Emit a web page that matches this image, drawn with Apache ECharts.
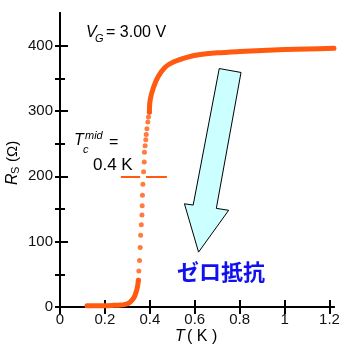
<!DOCTYPE html>
<html><head><meta charset="utf-8">
<script src="https://cdn.jsdelivr.net/npm/echarts@6/dist/echarts.min.js"></script>
<style>html,body{margin:0;padding:0;background:#fff}#c{width:350px;height:350px}</style>
</head><body><div id="c"></div>
<script>
// ---- data ----
const xTicks = [0, 0.2, 0.4, 0.6, 0.8, 1, 1.2];
const yTicks = [0, 100, 200, 300, 400];
const yMinorTicks = [50, 150, 250, 350];
const yRightTicks = [0, 50, 100, 150, 200, 250, 300, 350, 400];
// dense low-temperature part (T in K, Rs in ohm)
const lowT = [0.12, 0.16, 0.20, 0.24, 0.27, 0.29, 0.30, 0.31, 0.32, 0.33, 0.335, 0.34, 0.345, 0.349];
const lowR = [2, 2, 2, 2.5, 3, 4, 5, 7, 10, 15, 19, 24, 31, 41];
// sparse points in the transition
const midT = [0.349, 0.351, 0.354, 0.357, 0.359, 0.362, 0.365, 0.366, 0.367, 0.369, 0.372, 0.375, 0.376, 0.379, 0.382, 0.384, 0.387, 0.391, 0.394, 0.398];
const midR = [41, 55, 71, 91, 110, 126, 141, 155, 171, 188, 207, 222, 237, 247, 256, 264, 273, 283, 291, 298];
// dense high-temperature part
const highT = [0.398, 0.401, 0.416, 0.438, 0.468, 0.505, 0.565, 0.617, 0.70, 0.80, 0.90, 1.0, 1.1, 1.22];
const highR = [298, 316, 336, 353, 367, 375, 382, 386, 389, 391, 392.5, 394, 395, 396];
// Tc mid marker (horizontal segments at R = 200)
const tcSegT = [[0.271, 0.357], [0.383, 0.476]];
const tcR = 200;
// arrow outline in data coordinates
const arrowT = [0.709, 0.806, 0.696, 0.751, 0.617, 0.554, 0.593];
const arrowR = [365, 359, 151, 148, 84, 158, 156];

const FONT = 'Liberation Sans';
const ORANGE = '#ff5a0f';
const zip = (a, b) => a.map((v, i) => [v, b[i]]);
const chart = echarts.init(document.getElementById('c'));

const axisLine = {show: true, lineStyle: {color: '#000', width: 2}};
const tick = (len, vals) => ({show: true, inside: true, length: len, customValues: vals, lineStyle: {color: '#000', width: 2}});

chart.setOption({
  animation: false,
  grid: {left: 60, right: 16, top: 13, bottom: 43},
  xAxis: [
    {type: 'value', min: 0, max: 1.22, position: 'bottom',
     axisLine, axisTick: tick(7, xTicks), splitLine: {show: false},
     axisLabel: {fontFamily: FONT, fontSize: 15, color: '#111', margin: 5, customValues: xTicks,
       formatter: v => String(+v.toFixed(1))}},
    {type: 'value', min: 0, max: 1.22, position: 'top',
     axisLine, axisTick: tick(7, xTicks), splitLine: {show: false}, axisLabel: {show: false}}
  ],
  yAxis: [
    {type: 'value', min: 0, max: 450, position: 'left',
     axisLine, axisTick: tick(8, yTicks), splitLine: {show: false},
     axisLabel: {fontFamily: FONT, fontSize: 15, color: '#111', margin: 7, customValues: yTicks}},
    {type: 'value', min: 0, max: 450, position: 'right',
     axisLine, axisTick: tick(5, yRightTicks), splitLine: {show: false}, axisLabel: {show: false}},
    {type: 'value', min: 0, max: 450, position: 'left',
     axisLine: {show: false}, axisTick: tick(5, yMinorTicks), splitLine: {show: false}, axisLabel: {show: false}}
  ],
  series: [
    {type: 'custom', silent: true, z: 1, data: [[0, 0]],
     renderItem: (params, api) => ({
       type: 'polygon',
       shape: {points: arrowT.map((t, i) => api.coord([t, arrowR[i]]))},
       style: {fill: '#ccffff', stroke: '#000', lineWidth: 1}
     })},
    {type: 'lines', coordinateSystem: 'cartesian2d', silent: true, z: 2,
     lineStyle: {color: ORANGE, width: 2, opacity: 1},
     data: tcSegT.map(s => ({coords: [[s[0], tcR], [s[1], tcR]]}))},
    {type: 'line', data: zip(lowT, lowR), showSymbol: false, smooth: 0.3, z: 3,
     lineStyle: {color: ORANGE, width: 5, cap: 'round', join: 'round'}},
    {type: 'scatter', data: zip(midT, midR), symbolSize: 5, z: 3,
     itemStyle: {color: ORANGE}},
    {type: 'line', data: zip(highT, highR), showSymbol: false, smooth: 0.3, z: 3,
     lineStyle: {color: ORANGE, width: 5, cap: 'round', join: 'round'}}
  ],
  graphic: [
    // V_G = 3.00 V
    {type: 'text', x: 86, y: 33, style: {text: 'V', font: 'italic 16px "Liberation Sans"', fill: '#000', verticalAlign: 'middle'}},
    {type: 'text', x: 95, y: 39, style: {text: 'G', font: 'italic 11px "Liberation Sans"', fill: '#000', verticalAlign: 'middle'}},
    {type: 'text', x: 106, y: 33, style: {text: '= 3.00 V', font: '16px "Liberation Sans"', fill: '#000', verticalAlign: 'middle'}},
    // Tc^mid =
    {type: 'text', x: 74, y: 141, style: {text: 'T', font: 'italic 16px "Liberation Sans"', fill: '#000', verticalAlign: 'middle'}},
    {type: 'text', x: 83, y: 150, style: {text: 'c', font: 'italic 11px "Liberation Sans"', fill: '#000', verticalAlign: 'middle'}},
    {type: 'text', x: 85, y: 136, style: {text: 'mid', font: 'italic 11px "Liberation Sans"', fill: '#000', verticalAlign: 'middle'}},
    {type: 'text', x: 109, y: 143, style: {text: '=', font: '16px "Liberation Sans"', fill: '#000', verticalAlign: 'middle'}},
    {type: 'text', x: 93, y: 165, style: {text: '0.4 K', font: '17px "Liberation Sans"', fill: '#000', verticalAlign: 'middle'}},
    // y title R_S (Ω)
    {type: 'group', x: 12.5, y: 160, rotation: Math.PI / 2, children: [
      {type: 'text', x: -25, y: 0, style: {text: 'R', font: 'italic 16px "Liberation Sans"', fill: '#000', verticalAlign: 'middle'}},
      {type: 'text', x: -14, y: 3, style: {text: 'S', font: '11px "Liberation Sans"', fill: '#000', verticalAlign: 'middle'}},
      {type: 'text', x: -2, y: 0, style: {text: '(Ω)', font: '15px "Liberation Sans"', fill: '#000', verticalAlign: 'middle'}}
    ]},
    // x title T ( K )
    {type: 'text', x: 175, y: 337, style: {text: 'T', font: 'italic 16px "Liberation Sans"', fill: '#000', verticalAlign: 'middle'}},
    {type: 'text', x: 187, y: 337, style: {text: '( K )', font: '16px "Liberation Sans"', fill: '#000', verticalAlign: 'middle'}},
    // ゼロ抵抗
    {type: 'text', x: 177, y: 272, style: {text: 'ゼロ抵抗', font: 'bold 22px "Noto Sans CJK JP"', fill: '#1010f0', verticalAlign: 'middle'}}
  ]
});
</script>
</body></html>
